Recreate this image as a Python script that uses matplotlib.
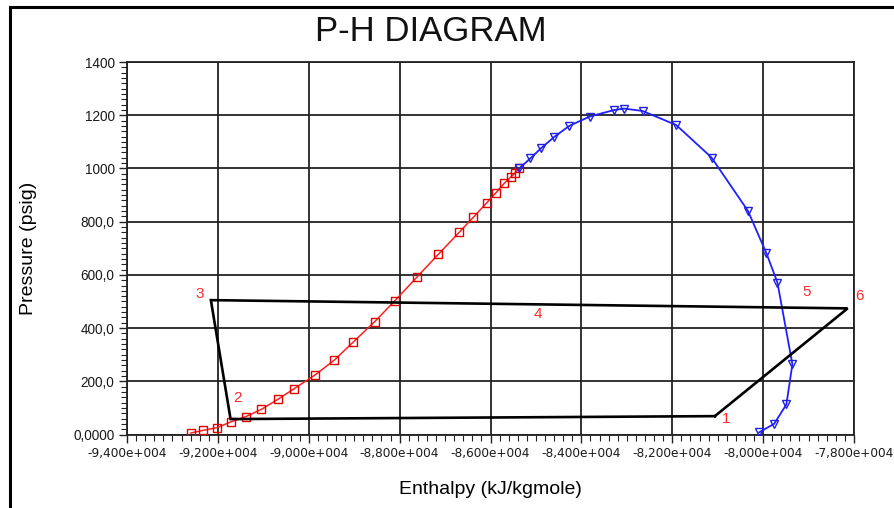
import matplotlib
matplotlib.use("Agg")
import matplotlib.pyplot as plt
from matplotlib.ticker import MultipleLocator, FixedLocator, FixedFormatter
from matplotlib.lines import Line2D

# Bubble-point curve (liquid side of the phase envelope)
bubble_h = [-92593, -92323, -92022, -91721, -91391, -91048, -90681, -90323,
            -89868, -89435, -89018, -88549, -88103, -87611, -87150, -86688,
            -86380, -86081, -85883, -85692, -85545, -85457, -85363]
bubble_p = [5.6, 15.7, 25.5, 46.9, 66.7, 94, 132, 172, 223, 280, 348, 424,
            503, 593, 677, 760, 816, 871, 908, 945, 969, 983, 1001]

# Dew-point curve (vapour side of the phase envelope)
dew_h = [-85363, -85121, -84886, -84593, -84264, -83818, -83290, -83063,
         -82653, -81912, -81136, -80336, -79927, -79685, -79356, -79488,
         -79758, -80088]
dew_p = [1001, 1038, 1076, 1119, 1160, 1195, 1219, 1225, 1216, 1163, 1041,
         841, 681, 571, 264, 113, 40, 8]

# Process cycle states 1 -> 6 -> 3 -> 2 -> 1
cycle_h = [-81062, -78140, -92154, -91721, -81062]
cycle_p = [69, 474, 505, 58, 69]

# State number labels
state_labels = ["1", "2", "3", "4", "5", "6"]
state_h = [-80820, -91567, -92396, -84960, -79048, -77868]
state_p = [57, 137, 527, 454, 535, 519]

x_ticks = [-94000, -92000, -90000, -88000, -86000, -84000, -82000, -80000, -78000]
x_tick_labels = ["-9,400e+004", "-9,200e+004", "-9,000e+004", "-8,800e+004",
                 "-8,600e+004", "-8,400e+004", "-8,200e+004", "-8,000e+004",
                 "-7,800e+004"]
y_ticks = [0, 200, 400, 600, 800, 1000, 1200, 1400]
y_tick_labels = ["0,0000", "200,0", "400,0", "600,0", "800,0", "1000", "1200", "1400"]

plt.rcParams['font.family'] = ['Liberation Sans', 'DejaVu Sans']

W, H = 894, 508
fig = plt.figure(figsize=(W / 100, H / 100), dpi=100)
fig.patch.set_facecolor("white")

ax = fig.add_axes([127 / W, 1 - 434.5 / H, (854 - 127) / W, (434.5 - 62) / H])
ax.set_xlim(-94000, -78000)
ax.set_ylim(0, 1400)

grid_col = "#222222"
ax.xaxis.set_major_locator(FixedLocator(x_ticks))
ax.xaxis.set_major_formatter(FixedFormatter(x_tick_labels))
ax.yaxis.set_major_locator(FixedLocator(y_ticks))
ax.yaxis.set_major_formatter(FixedFormatter(y_tick_labels))
ax.xaxis.set_minor_locator(MultipleLocator(200))
ax.yaxis.set_minor_locator(MultipleLocator(20))
ax.grid(True, which="major", color=grid_col, linewidth=1.3)
ax.set_axisbelow(True)
for s in ax.spines.values():
    s.set_color(grid_col)
    s.set_linewidth(1.3)

ax.tick_params(axis="both", which="major", direction="out", length=6,
               width=1.0, color=grid_col, labelcolor="#1a1a1a")
ax.tick_params(axis="both", which="minor", direction="out", length=4,
               width=0.8, color=grid_col)
ax.tick_params(axis="x", which="major", labelsize=8.7, pad=3)
ax.tick_params(axis="y", which="major", labelsize=9.8, pad=3)
for lab in ax.get_xticklabels():
    lab.set_family(["DejaVu Sans"])

# Phase envelope
ax.plot(bubble_h, bubble_p, color="#ff2020", linewidth=1.1, marker="s",
        markersize=5.5, markerfacecolor="none", markeredgecolor="#e00000",
        markeredgewidth=1.0, zorder=3)
ax.plot(dew_h, dew_p, color="#2020ff", linewidth=1.3, marker="v",
        markersize=5.5, markerfacecolor="none", markeredgecolor="#2020e0",
        markeredgewidth=1.0, zorder=3)

# Cycle
ax.plot(cycle_h, cycle_p, color="black", linewidth=1.9, zorder=4,
        solid_joinstyle="miter")

for lab, h, p in zip(state_labels, state_h, state_p):
    ax.text(h, p, lab, color="#ff2a2a", fontsize=11, ha="center", va="center",
            clip_on=False, zorder=5)

ax.set_xlabel("Enthalpy (kJ/kgmole)", fontsize=14, labelpad=15)
ax.set_ylabel("Pressure (psig)", fontsize=14, labelpad=26)

fig.text(431 / W, 1 - 41 / H, "P-H DIAGRAM", fontsize=25, ha="center",
         va="baseline", color="#111111")

# Outer frame (top and left edges)
fig.add_artist(Line2D([10 / W, 10 / W], [0, 1 - 7 / H], transform=fig.transFigure,
                      color="black", linewidth=2.2))
fig.add_artist(Line2D([10 / W, 1], [1 - 7 / H, 1 - 7 / H], transform=fig.transFigure,
                      color="black", linewidth=2.2))

fig.savefig("out.png", dpi=100)
